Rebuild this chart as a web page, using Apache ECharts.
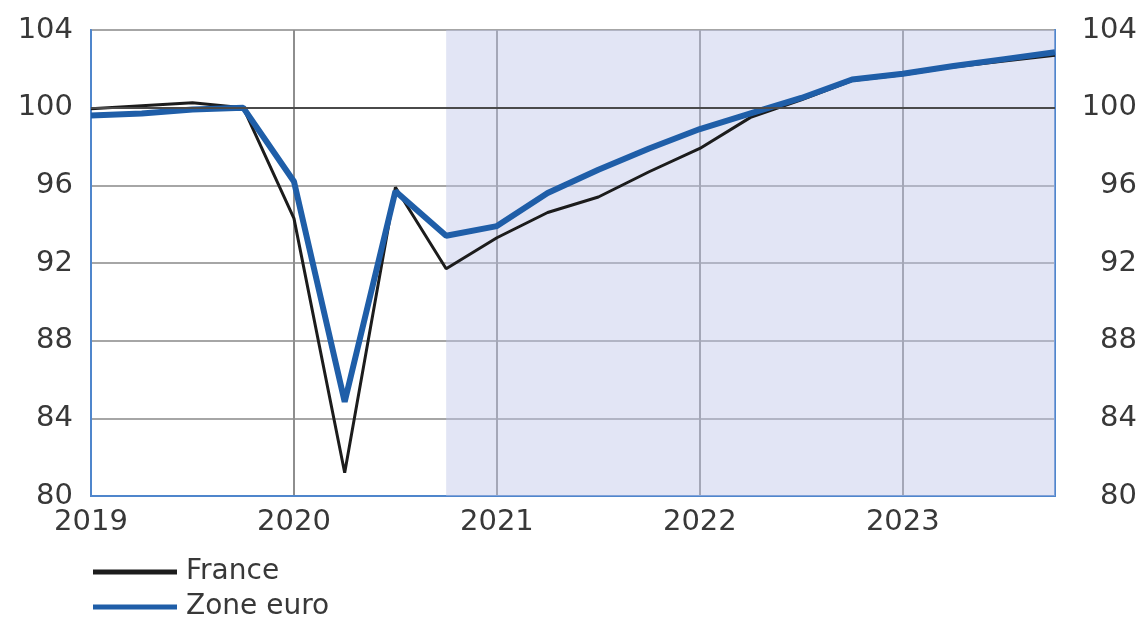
<!DOCTYPE html>
<html>
<head>
<meta charset="utf-8">
<script src="https://cdn.jsdelivr.net/npm/echarts@6/dist/echarts.min.js"></script>
<style>
html,body{margin:0;padding:0;background:#fff;}
#chart{width:1142px;height:617px;}
</style>
</head>
<body>
<div id="chart"></div>
<script>
// Quarterly periods (year + quarter)
const quarters = ['2019T1','2019T2','2019T3','2019T4','2020T1','2020T2','2020T3','2020T4',
  '2021T1','2021T2','2021T3','2021T4','2022T1','2022T2','2022T3','2022T4',
  '2023T1','2023T2','2023T3','2023T4'];
const france = [99.95, 100.1, 100.25, 100.0, 94.3, 81.2, 95.9, 91.7, 93.3, 94.6, 95.4, 96.7,
  97.9, 99.5, 100.4, 101.4, 101.7, 102.1, 102.4, 102.7];
const zoneEuro = [99.6, 99.7, 99.9, 100.0, 96.2, 84.85, 95.7, 93.4, 93.9, 95.6, 96.8, 97.9,
  98.9, 99.7, 100.5, 101.45, 101.75, 102.15, 102.5, 102.85];
const yTicks = [80, 84, 88, 92, 96, 100, 104];
const forecastStart = '2020T4';
const forecastEnd = '2023T4';
const refLevel = 100;

function qPos(q){ return parseInt(q.slice(0,4),10) + (parseInt(q.slice(5),10)-1)/4; }
const pairs = arr => quarters.map((q,i)=>[qPos(q), arr[i]]);

const font = 'DejaVu Sans';
const txt = {color:'#383838', fontFamily:font, fontSize:29};

const chart = echarts.init(document.getElementById('chart'), null, {renderer:'canvas'});
const yCommon = {
  type:'value', min:yTicks[0], max:yTicks[yTicks.length-1], interval:4,
  axisTick:{show:false},
  axisLine:{show:true, lineStyle:{color:'#4f86cc', width:2}}
};
const legendBase = {
  left:88, orient:'horizontal', itemWidth:84, itemHeight:5,
  icon:'rect', textStyle:Object.assign({}, txt, {fontSize:28, padding:[0,0,0,4]})
};
chart.setOption({
  animation:false,
  backgroundColor:'#fff',
  grid:{left:91, right:87, top:30, bottom:121, show:true, borderColor:'#6d8fc4', borderWidth:2, backgroundColor:'transparent'},
  legend:[
    Object.assign({}, legendBase, {top:553, data:['France']}),
    Object.assign({}, legendBase, {top:588, data:['Zone euro']})
  ],
  xAxis:{
    type:'value', min:qPos(quarters[0]), max:qPos(quarters[quarters.length-1]), interval:1,
    axisTick:{show:false},
    axisLine:{show:true, lineStyle:{color:'#4f86cc', width:2}},
    splitLine:{show:true, lineStyle:{color:'#8e8e8e', width:2}},
    axisLabel:Object.assign({}, txt, {margin:12, showMaxLabel:false, formatter:v=>String(Math.round(v))})
  },
  yAxis:[
    Object.assign({}, yCommon, {
      position:'left',
      splitLine:{show:true, lineStyle:{color:'#a6a6a6', width:2}},
      axisLabel:Object.assign({}, txt, {margin:18, align:'right'})
    }),
    Object.assign({}, yCommon, {
      position:'right',
      splitLine:{show:false},
      axisLabel:Object.assign({}, txt, {margin:82, align:'right'})
    })
  ],
  series:[
    {
      name:'France', type:'line', data:pairs(france), showSymbol:false, symbol:'none',
      lineStyle:{color:'#1c1c1c', width:3}, itemStyle:{color:'#1c1c1c'}, z:3,
      markArea:{silent:true, itemStyle:{color:'rgba(190,197,232,0.45)'},
        data:[[{xAxis:qPos(forecastStart)},{xAxis:qPos(forecastEnd)}]]},
      markLine:{silent:true, symbol:'none', label:{show:false},
        lineStyle:{color:'#4a4a4a', width:2, type:'solid'}, data:[{yAxis:refLevel}]}
    },
    {
      name:'Zone euro', type:'line', data:pairs(zoneEuro), showSymbol:false, symbol:'none',
      lineStyle:{color:'#1f5ea8', width:6}, itemStyle:{color:'#1f5ea8'}, z:4
    }
  ]
});
</script>
</body>
</html>
